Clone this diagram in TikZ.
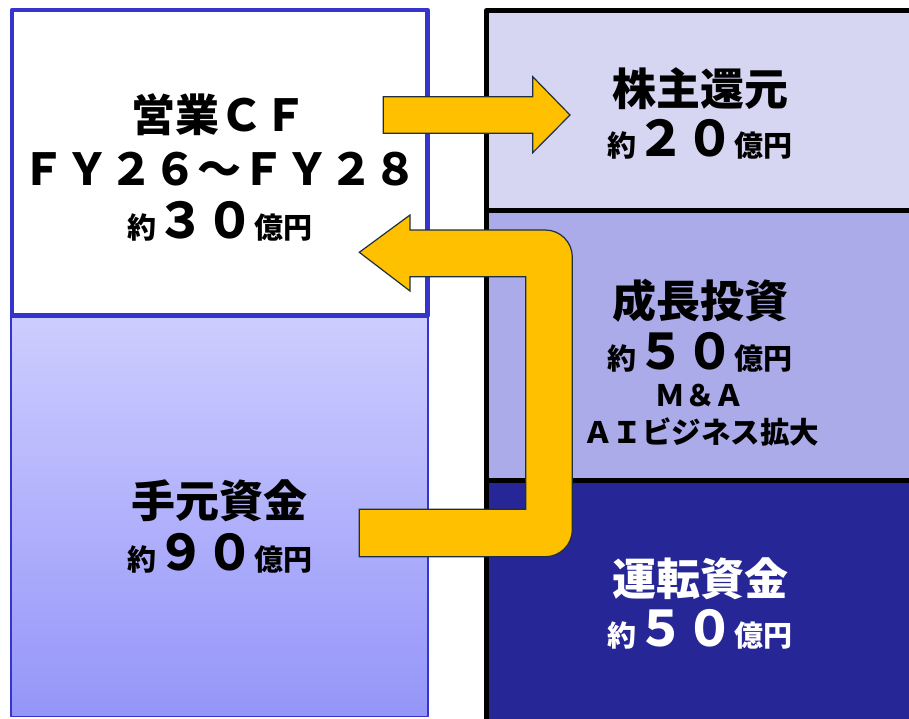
\documentclass[tikz,border=0pt]{standalone}
\usepackage{fontspec}
\newfontfamily\jpf{Noto Sans CJK JP}
\definecolor{cfblue}{HTML}{3535CC}
\definecolor{cashtop}{HTML}{CDCDFF}
\definecolor{cashbot}{HTML}{9595F9}
\definecolor{retfill}{HTML}{D6D6F2}
\definecolor{invfill}{HTML}{ABABE9}
\definecolor{wcfill}{HTML}{262696}
\definecolor{arrfill}{HTML}{FFC000}
\definecolor{arredge}{HTML}{1E3040}
\newcommand\amt[1]{{\fontsize{29}{29}\selectfont 約}{\fontsize{49}{49}\selectfont #1}{\fontsize{29}{29}\selectfont 億円}}
\tikzset{
  box/.style={rectangle, inner sep=0pt, outer sep=0pt, line join=round},
  colbox/.style={box, draw=black, line width=5pt, minimum width=427pt},
  ttl/.style={anchor=base, inner sep=0pt, font=\jpf\bfseries\fontsize{44}{44}\selectfont},
  num/.style={anchor=base, inner sep=0pt, font=\jpf\bfseries},
  sub/.style={anchor=base, inner sep=0pt, font=\jpf\bfseries\fontsize{29.5}{29.5}\selectfont},
  blockarrow/.style={fill=arrfill, draw=arredge, line width=1.2pt, line join=miter}
}
\begin{document}
\begin{tikzpicture}[x=1pt, y=-1pt]
\useasboundingbox (0,0) rectangle (909,718);
\clip (0,0) rectangle (909,718);
\fill[white] (0,0) rectangle (909,718);
% left column
\node[box, draw=cfblue, line width=1.5pt, top color=cashtop, bottom color=cashbot,
      minimum width=417pt, minimum height=400.5pt] (cash) at (219.5,516.25) {};
\node[box, draw=cfblue, fill=white, line width=4.5pt,
      minimum width=415.5pt, minimum height=305.5pt] (cf) at (219.75,162.75) {};
% right column
\node[colbox, fill=retfill, minimum height=199.5pt] (ret) at (700,110.25) {};
\node[colbox, fill=invfill, minimum height=270.5pt] (inv) at (700,345.25) {};
\node[colbox, fill=wcfill, minimum height=241.5pt] (wc) at (700,601.25) {};
% texts
\node[ttl] (cf1) at (219.5,131.5) {営業ＣＦ};
\node[ttl] (cf2) at (219.5,185) {ＦＹ２６～ＦＹ２８};
\node[num] (cf3) at (219.5,238.3) {\amt{３０}};
\node[ttl] (cash1) at (219.5,517.5) {手元資金};
\node[num] (cash2) at (219.5,570.5) {\amt{９０}};
\node[ttl] (ret1) at (700,105.8) {株主還元};
\node[num] (ret2) at (700,156.7) {\amt{２０}};
\node[ttl] (inv1) at (700,317.5) {成長投資};
\node[num] (inv2) at (700,369.5) {\amt{５０}};
\node[sub] (inv3) at (700,406.7) {Ｍ＆Ａ};
\node[sub] (inv4) at (701,443) {ＡＩビジネス拡大};
\node[ttl, text=white] (wc1) at (700,595.8) {運転資金};
\node[num, text=white] (wc2) at (700,646.7) {\amt{５０}};
% arrow: operating CF -> shareholder return
\draw[blockarrow] (383.3,96.7) -- (532.7,96.7) -- (532.7,76.7) -- (570,115)
  -- (532.7,152.7) -- (532.7,133.3) -- (383.3,133.3) -- cycle;
% U-shaped arrow: cash -> operating CF
\draw[blockarrow] (359.3,252.3) -- (410,215) -- (410,230) -- (545.3,230)
  .. controls (560.2,230) and (572.3,242.1) .. (572.3,257)
  -- (572.3,529.7)
  .. controls (572.3,544.6) and (560.2,556.7) .. (545.3,556.7)
  -- (359.3,556.7) -- (359.3,509.3) -- (525.7,509.3) -- (525.7,276.7)
  -- (410,276.7) -- (410,291) -- cycle;
\end{tikzpicture}
\end{document}
